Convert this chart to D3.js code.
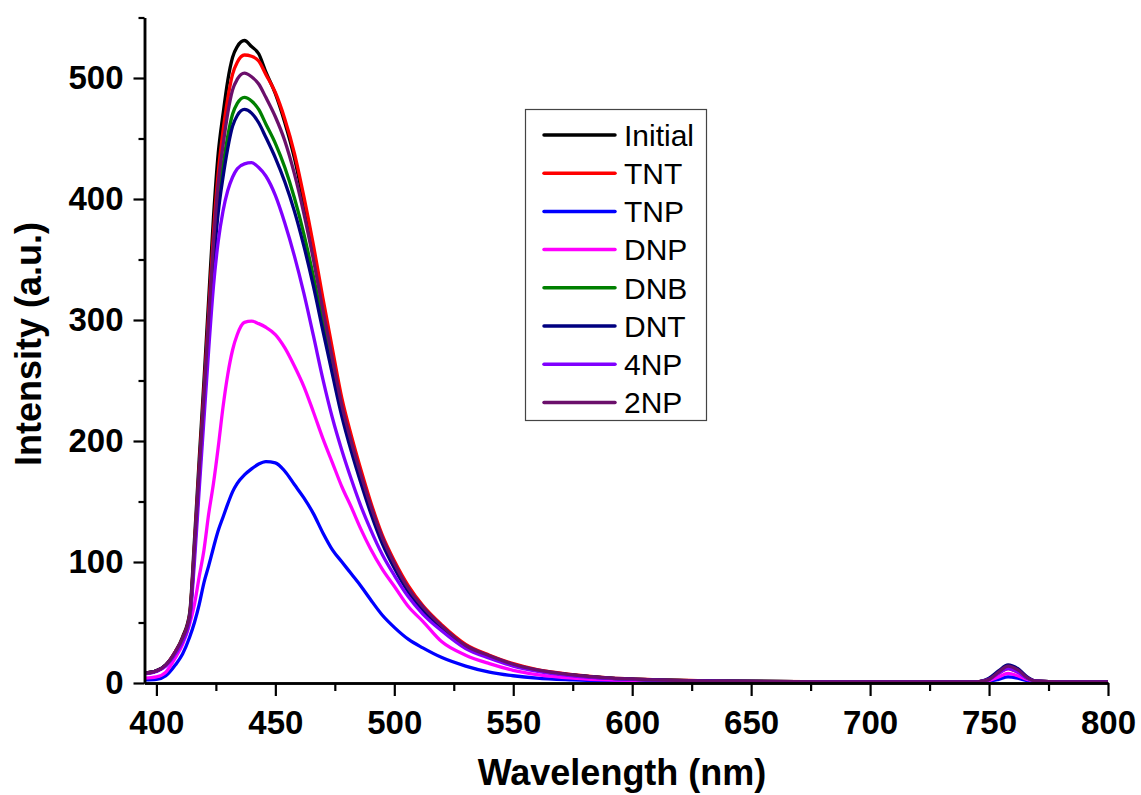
<!DOCTYPE html>
<html>
<head>
<meta charset="utf-8">
<script src="https://cdn.jsdelivr.net/npm/d3@7"></script>
<style>
  html, body { margin: 0; padding: 0; background: #fff; }
  svg { display: block; }
</style>
</head>
<body>
<svg id="chart" width="1141" height="795"></svg>
<script>
// Emission spectra (intensity vs. wavelength) before and after adding nitro analytes
const wavelengths = [395, 400, 404, 408, 411, 414, 416, 418, 420, 422, 424, 426, 428, 430, 432, 434, 437, 440, 443, 446, 450, 454, 458, 462, 466, 470, 474, 478, 482, 486, 490, 495, 500, 506, 512, 520, 530, 540, 550, 560, 575, 590, 610, 640, 680, 720, 745, 750, 754, 758, 762, 766, 770, 780, 800];

const initialValues = [8, 10, 15, 26, 38, 58, 118, 185, 250, 318, 385, 438, 470, 498, 517, 526, 531, 526, 520, 505, 487, 463, 434, 397, 357, 312, 270, 229, 199, 171, 146, 119, 98, 77, 62, 46, 30, 22, 15, 10.5, 6.5, 4, 2.5, 1.5, 1, 1, 1, 3, 9, 13, 10, 4, 1.5, 1, 1];
const tntValues = [8, 10, 15, 26, 37, 56, 113, 178, 241, 307, 372, 422, 456, 483, 503, 513, 519, 518, 514, 503, 488, 466, 438, 402, 362, 318, 276, 235, 204, 176, 150, 122, 101, 80, 64, 48, 32, 23, 16, 11, 7, 4.3, 2.7, 1.6, 1, 1, 1, 3, 8, 12, 9, 4, 1.5, 1, 1];
const tnpValues = [2.5, 3, 6, 15, 24, 38, 50, 65, 83, 97, 112, 126, 137, 148, 158, 165, 172, 177, 181, 183, 182, 175, 164, 153, 140, 124, 110, 100, 90, 80, 69, 56, 46, 36, 29, 21, 14, 9, 6, 4, 2.5, 1.5, 1, 1, 1, 1, 1, 1.5, 3, 5, 4, 2, 1, 1, 1];
const dnpValues = [4, 5, 9, 21, 32, 49, 65, 88, 110, 140, 165, 195, 228, 255, 275, 288, 298, 299, 297, 294, 288, 277, 262, 245, 224, 202, 182, 162, 145, 127, 111, 94, 80, 63, 51, 34, 23, 16, 10.5, 7, 4, 2.5, 2, 1.2, 1, 1, 1, 2, 5, 8, 6, 3, 1.2, 1, 1];
const dnbValues = [8, 10, 15, 25, 36, 55, 110, 172, 232, 295, 353, 398, 428, 452, 470, 479, 484, 481, 474, 462, 446, 426, 401, 371, 336, 298, 261, 225, 196, 169, 145, 118, 97, 77, 62, 46, 30.5, 22, 15, 10.5, 6.5, 4, 2.5, 1.5, 1, 1, 1, 3, 9, 13, 10, 4, 1.5, 1, 1];
const dntValues = [8, 10, 15, 25, 36, 54, 108, 169, 228, 289, 345, 389, 418, 442, 460, 469, 474, 471, 463, 451, 434, 414, 390, 361, 328, 291, 255, 220, 191, 165, 141, 115, 95, 75, 60, 45, 30, 21.5, 14.8, 10.3, 6.4, 4, 2.5, 1.5, 1, 1, 1, 4, 10, 15, 12, 5, 1.5, 1, 1];
const np4Values = [7.5, 9.5, 14, 24, 34, 52, 100, 160, 218, 276, 328, 365, 390, 407, 418, 425, 429, 430, 426, 419, 403, 380, 353, 322, 287, 251, 219, 192, 168, 146, 127, 106, 89, 71, 57, 43, 28.5, 20.5, 14, 9.8, 6, 3.8, 2.3, 1.3, 1, 1, 1, 3, 8, 12, 9, 4, 1.5, 1, 1];
const np2Values = [8, 10, 15, 26, 37, 56, 112, 176, 238, 302, 364, 413, 444, 471, 490, 499, 504, 501, 495, 484, 468, 448, 421, 388, 350, 308, 268, 229, 199, 172, 147, 120, 99, 78, 63, 47, 31, 22.5, 15.5, 10.8, 6.8, 4.2, 2.6, 1.5, 1, 1, 1, 3, 9, 14, 11, 4.5, 1.5, 1, 1];

const seriesNames = ["Initial", "TNT", "TNP", "DNP", "DNB", "DNT", "4NP", "2NP"];
const seriesColors = ["#000000", "#ff0000", "#0000ff", "#ff00ff", "#008000", "#000080", "#8000ff", "#6b0f6b"];
const seriesValues = [initialValues, tntValues, tnpValues, dnpValues, dnbValues, dntValues, np4Values, np2Values];

const xMajorTicks = [400, 450, 500, 550, 600, 650, 700, 750, 800];
const xMinorTicks = [425, 475, 525, 575, 625, 675, 725, 775];
const yMajorTicks = [0, 100, 200, 300, 400, 500];
const yMinorTicks = [50, 150, 250, 350, 450, 550];

const series = seriesNames.map((name, i) => ({
  name,
  color: seriesColors[i],
  points: wavelengths.map((w, j) => ({ w, v: seriesValues[i][j] }))
}));

const svg = d3.select("#chart");
const font = "'Liberation Sans', Arial, Helvetica, sans-serif";

// Plot area
const plotLeft = 144.5, plotRight = 1108, plotTop = 17.5, plotBottom = 683;
const x = d3.scaleLinear().domain([395, 800]).range([plotLeft, plotRight]);
const y = d3.scaleLinear().domain([0, 550]).range([plotBottom, plotTop]);

// Spectra
const line = d3.line()
  .x(d => x(d.w))
  .y(d => y(d.v))
  .curve(d3.curveMonotoneX);

svg.append("g")
  .selectAll("path")
  .data(series)
  .join("path")
  .attr("d", d => line(d.points))
  .attr("fill", "none")
  .attr("stroke", d => d.color)
  .attr("stroke-width", 3.3)
  .attr("stroke-linejoin", "round");

// Axes: minor ticks first, then major ticks with labels
function styleAxis(g) {
  g.selectAll("path.domain").attr("stroke", "#000").attr("stroke-width", 2.5);
  g.selectAll(".tick line").attr("stroke", "#000").attr("stroke-width", 2.2);
  g.selectAll(".tick text")
    .attr("fill", "#000")
    .style("font-family", font)
    .style("font-weight", "bold")
    .style("font-size", "33px");
}

svg.append("g")
  .attr("transform", `translate(0,${plotBottom})`)
  .call(d3.axisBottom(x).tickValues(xMinorTicks).tickSize(8).tickSizeOuter(0).tickFormat(""))
  .call(styleAxis);
svg.append("g")
  .attr("transform", `translate(0,${plotBottom})`)
  .call(d3.axisBottom(x).tickValues(xMajorTicks).tickSize(13).tickSizeOuter(0).tickPadding(15).tickFormat(d3.format("d")))
  .call(styleAxis);

svg.append("g")
  .attr("transform", `translate(${plotLeft},0)`)
  .call(d3.axisLeft(y).tickValues(yMinorTicks).tickSize(6).tickSizeOuter(0).tickFormat(""))
  .call(styleAxis);
svg.append("g")
  .attr("transform", `translate(${plotLeft},0)`)
  .call(d3.axisLeft(y).tickValues(yMajorTicks).tickSize(11).tickSizeOuter(0).tickPadding(10).tickFormat(d3.format("d")))
  .call(styleAxis);

// Axis titles
svg.append("text")
  .attr("x", 622)
  .attr("y", 785)
  .attr("text-anchor", "middle")
  .style("font-family", font)
  .style("font-weight", "bold")
  .style("font-size", "36px")
  .text("Wavelength (nm)");

svg.append("text")
  .attr("transform", "translate(41,344) rotate(-90)")
  .attr("text-anchor", "middle")
  .style("font-family", font)
  .style("font-weight", "bold")
  .style("font-size", "36px")
  .text("Intensity (a.u.)");

// Legend
const legendX = 525, legendY = 109.5, legendW = 181, legendH = 311, rowGap = 38.2, firstRow = 135;
const legend = svg.append("g");
legend.append("rect")
  .attr("x", legendX + 0.5)
  .attr("y", legendY)
  .attr("width", legendW)
  .attr("height", legendH)
  .attr("fill", "#fff")
  .attr("stroke", "#444")
  .attr("stroke-width", 1.2);

const rows = legend.selectAll("g.row")
  .data(series)
  .join("g")
  .attr("class", "row")
  .attr("transform", (d, i) => `translate(0,${firstRow + i * rowGap})`);

rows.append("line")
  .attr("x1", 544)
  .attr("x2", 615)
  .attr("y1", 0)
  .attr("y2", 0)
  .attr("stroke", d => d.color)
  .attr("stroke-width", 3.5)
  .attr("stroke-linecap", "round");

rows.append("text")
  .attr("x", 624)
  .attr("y", 0)
  .attr("dy", "0.36em")
  .style("font-family", font)
  .style("font-size", "30px")
  .attr("fill", "#000")
  .text(d => d.name);
</script>
</body>
</html>
